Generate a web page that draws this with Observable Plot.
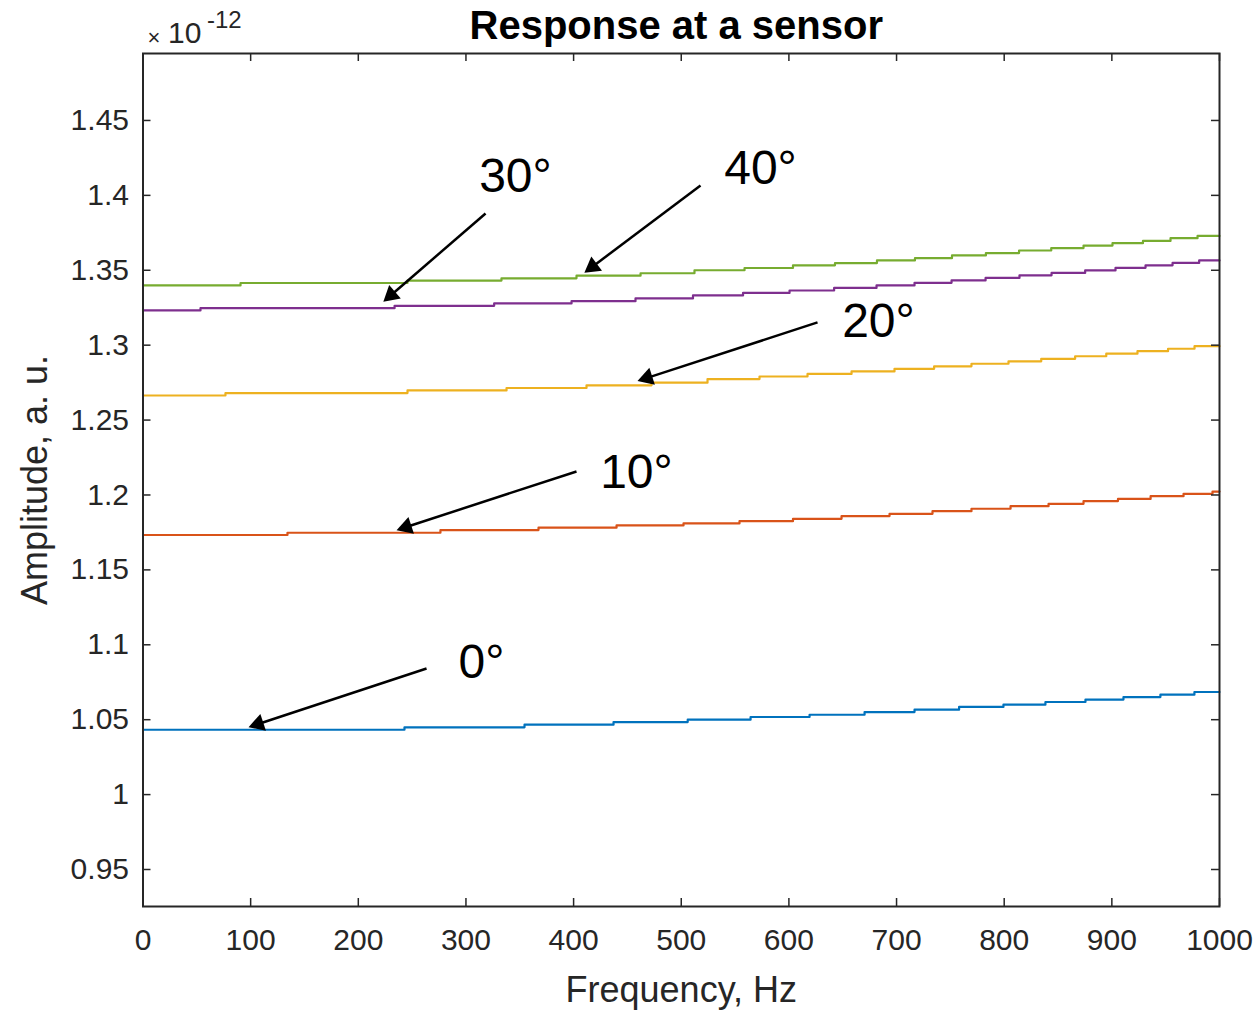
<!DOCTYPE html>
<html><head><meta charset="utf-8">
<script src="https://cdn.jsdelivr.net/npm/d3@7"></script>
<script src="https://cdn.jsdelivr.net/npm/@observablehq/plot@0.6"></script>
<style>body{margin:0;background:#fff;} svg{display:block;}</style>
</head><body><div id="chart"></div>
<script>
// ---- data (amplitude in units of 1e-12) ----
const seriesNames = ["0°", "10°", "20°", "30°", "40°"];
const seriesColors = ["#0072BD", "#D95319", "#EDB120", "#7E2F8E", "#77AC30"];

const freq0 = [0, 242.9, 354.4, 437.1, 506, 564.4, 619.2, 670.3, 716.7, 758.1, 799.3, 838.3, 875.5, 910.8, 945.1, 976.7, 1000];
const amp0  = [1.0433, 1.0449, 1.0467, 1.0484, 1.0500, 1.0518, 1.0533, 1.0551, 1.0567, 1.0585, 1.0600, 1.0618, 1.0634, 1.0651, 1.0667, 1.0685, 1.0685];

const freq10 = [0, 134.2, 276.3, 367.4, 439.9, 502.1, 554.1, 603.8, 648.9, 693.5, 733.4, 769.6, 805.9, 841.2, 873.7, 905.7, 936.0, 966.6, 993.5, 1000];
const amp10  = [1.1733, 1.1748, 1.1766, 1.1782, 1.1797, 1.1810, 1.1825, 1.1841, 1.1859, 1.1874, 1.1892, 1.1908, 1.1925, 1.1941, 1.1959, 1.1974, 1.1992, 1.2008, 1.2023, 1.2023];

const freq20 = [0, 76.6, 245.7, 337.7, 412.0, 472.4, 524.4, 572.7, 617.3, 658.2, 698.1, 734.9, 769.6, 804.0, 834.4, 865.9, 894.8, 923.8, 952.2, 976.8, 1000];
const amp20  = [1.2664, 1.2680, 1.2698, 1.2714, 1.2732, 1.2750, 1.2774, 1.2791, 1.2808, 1.2825, 1.2842, 1.2859, 1.2876, 1.2892, 1.2909, 1.2926, 1.2943, 1.2960, 1.2976, 1.2993, 1.2993];

const freq30 = [0, 53.4, 233.7, 326.2, 398.1, 457.5, 510.9, 557.4, 600.6, 642.0, 681.4, 716.7, 751.1, 782.7, 814.2, 844.0, 875.2, 903.4, 931.3, 956.4, 981.1, 1000];
const amp30  = [1.3232, 1.3247, 1.3263, 1.3279, 1.3294, 1.3312, 1.3332, 1.3349, 1.3365, 1.3382, 1.3399, 1.3416, 1.3432, 1.3449, 1.3466, 1.3482, 1.3499, 1.3516, 1.3533, 1.3549, 1.3566, 1.3566];

const freq40 = [0, 90.6, 245.7, 333, 402.7, 462.2, 512.3, 558.8, 603.8, 642.8, 681.8, 717.1, 751.5, 783, 813.8, 843.7, 873.7, 900.6, 928.9, 954.5, 979.6, 1000];
const amp40  = [1.3399, 1.3415, 1.3431, 1.3446, 1.3464, 1.3480, 1.3500, 1.3515, 1.3533, 1.3548, 1.3566, 1.3581, 1.3599, 1.3615, 1.3632, 1.3648, 1.3665, 1.3681, 1.3696, 1.3714, 1.3729, 1.3729];

const xTicks = [0, 100, 200, 300, 400, 500, 600, 700, 800, 900, 1000];
const xTickLabels = ["0", "100", "200", "300", "400", "500", "600", "700", "800", "900", "1000"];
const yTicks = [0.95, 1, 1.05, 1.1, 1.15, 1.2, 1.25, 1.3, 1.35, 1.4, 1.45];
const yTickLabels = ["0.95", "1", "1.05", "1.1", "1.15", "1.2", "1.25", "1.3", "1.35", "1.4", "1.45"];

// annotations: label, label position, arrow tail, arrow tip (data units)
const annLabels = ["0°", "10°", "20°", "30°", "40°"];
const annTextX = [314.4, 458.4, 683.2, 346.0, 573.6];
const annTextY = [1.0882, 1.2150, 1.3158, 1.4126, 1.4180];
const annTailX = [263.4, 402.7, 626.6, 318.2, 517.9];
const annTailY = [1.0842, 1.2157, 1.3152, 1.3879, 1.4066];
const annTipX  = [97.1, 234.6, 458.4, 222.5, 409.2];
const annTipY  = [1.0448, 1.1763, 1.2758, 1.3285, 1.3479];

const titleText = "Response at a sensor";
const xLabel = "Frequency, Hz";
const yLabel = "Amplitude, a. u.";

// ---- layout ----
const W = 1253, H = 1011, mt = 53, mb = 105, ml = 142.5, mr = 34;
const xDomain = [0, 1000], yDomain = [0.9253, 1.4947];
const plotW = W - ml - mr, plotH = H - mt - mb;
const axisColor = "#262626";
const font = "'Liberation Sans', Arial, Helvetica, sans-serif";

const freqs = [freq0, freq10, freq20, freq30, freq40];
const amps = [amp0, amp10, amp20, amp30, amp40];
const rows = [];
seriesNames.forEach((s, i) => freqs[i].forEach((f, j) => rows.push({s, f, a: amps[i][j]})));

// arrow geometry through the scales
const xs = Plot.scale({x: {domain: xDomain, range: [ml, W - mr]}});
const ys = Plot.scale({y: {domain: yDomain, range: [H - mb, mt]}});
const headH = 17;
const ann = annLabels.map((label, i) => {
  const tx = xs.apply(annTailX[i]), ty = ys.apply(annTailY[i]);
  const px = xs.apply(annTipX[i]), py = ys.apply(annTipY[i]);
  const L = Math.hypot(px - tx, py - ty);
  const ux = (px - tx) / L, uy = (py - ty) / L;
  const cx = px - ux * headH * 2 / 3, cy = py - uy * headH * 2 / 3;
  const bx = px - ux * headH * 0.9, by = py - uy * headH * 0.9;
  return {
    label, lx: annTextX[i], ly: annTextY[i],
    x1: annTailX[i], y1: annTailY[i],
    x2: xs.invert(bx), y2: ys.invert(by),
    hx: xs.invert(cx), hy: ys.invert(cy),
    angle: Math.atan2(ux, -uy) * 180 / Math.PI
  };
});

const chart = Plot.plot({
  width: W, height: H,
  marginTop: mt, marginBottom: mb, marginLeft: ml, marginRight: mr,
  style: {fontFamily: font, background: "#fff"},
  x: {domain: xDomain, axis: null},
  y: {domain: yDomain, axis: null},
  color: {domain: seriesNames, range: seriesColors},
  marks: [
    Plot.line(rows, {x: "f", y: "a", z: "s", stroke: "s", curve: "step-after", strokeWidth: 2.2}),
    // tick marks (inward, all four sides)
    Plot.tickY(yTicks, {y: d => d, insetRight: plotW - 8, stroke: axisColor, strokeWidth: 1.5}),
    Plot.tickY(yTicks, {y: d => d, insetLeft: plotW - 8, stroke: axisColor, strokeWidth: 1.5}),
    Plot.tickX(xTicks, {x: d => d, insetTop: plotH - 8, stroke: axisColor, strokeWidth: 1.5}),
    Plot.tickX(xTicks, {x: d => d, insetBottom: plotH - 8, stroke: axisColor, strokeWidth: 1.5}),
    Plot.frame({stroke: axisColor, strokeWidth: 2}),
    // tick labels
    Plot.axisX({ticks: xTicks, tickSize: 0, tickPadding: 22, tickFormat: d => xTickLabels[xTicks.indexOf(d)], fontSize: 30, fill: axisColor, label: null}),
    Plot.axisY({ticks: yTicks, tickSize: 0, tickPadding: 14, tickFormat: d => yTickLabels[yTicks.indexOf(d)], fontSize: 30, fill: axisColor, label: null}),
    // axis labels
    Plot.text([xLabel], {frameAnchor: "bottom", lineAnchor: "middle", textAnchor: "middle", dy: 84, text: d => d, fontSize: 36, fill: axisColor}),
    Plot.text([yLabel], {frameAnchor: "left", lineAnchor: "middle", textAnchor: "middle", dx: -108, rotate: -90, text: d => d, fontSize: 36, fill: axisColor}),
    // title
    Plot.text([titleText], {frameAnchor: "top", lineAnchor: "middle", textAnchor: "middle", dx: -5, dy: -27, text: d => d, fontSize: 40, fontWeight: "bold", fill: "#000"}),
    // exponent
    Plot.text(["×"], {frameAnchor: "top-left", lineAnchor: "middle", textAnchor: "middle", dx: 11, dy: -16, text: d => d, fontSize: 22, fill: axisColor}),
    Plot.text(["10"], {frameAnchor: "top-left", lineAnchor: "middle", textAnchor: "start", dx: 25, dy: -20, text: d => d, fontSize: 30, fill: axisColor}),
    Plot.text(["-12"], {frameAnchor: "top-left", lineAnchor: "middle", textAnchor: "start", dx: 64, dy: -33, text: d => d, fontSize: 24, fill: axisColor}),
    // annotation arrows
    Plot.link(ann, {x1: "x1", y1: "y1", x2: "x2", y2: "y2", stroke: "#000", strokeWidth: 2.5}),
    Plot.dot(ann, {x: "hx", y: "hy", symbol: "triangle", r: 6.6, fill: "#000", stroke: "none", rotate: "angle"}),
    Plot.text(ann, {x: "lx", y: "ly", text: "label", fontSize: 48, fill: "#000"})
  ]
});
document.getElementById("chart").appendChild(chart);
</script>
</body></html>
